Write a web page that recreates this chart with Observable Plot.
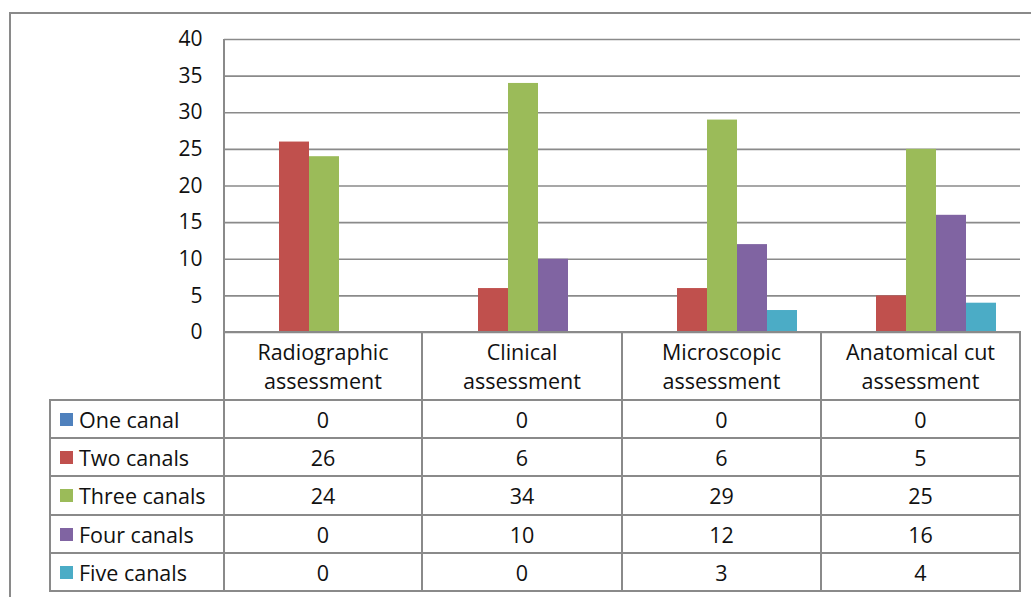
<!DOCTYPE html>
<html>
<head>
<meta charset="utf-8">
<script src="https://cdn.jsdelivr.net/npm/d3@7"></script>
<script src="https://cdn.jsdelivr.net/npm/@observablehq/plot@0.6"></script>
<style>
  html, body { margin: 0; padding: 0; background: #fff; overflow: hidden; }
  #wrap { position: relative; width: 1031px; height: 597px; overflow: hidden; font-family: "Open Sans", sans-serif; color: #111; }
  .ln { position: absolute; background: #8a8a8a; }
  .cell { position: absolute; display: flex; align-items: center; justify-content: center; text-align: center; font-size: 21.5px; line-height: 29px; }
  .lab { position: absolute; display: flex; align-items: center; font-size: 21.5px; white-space: nowrap; }
  .sw { display: inline-block; width: 13px; height: 13px; margin-right: 6px; }
  #plot { position: absolute; left: 0; top: 0; }
</style>
</head>
<body>
<div id="wrap"><div id="plot"></div></div>
<script>
// ---- data ----
const categories = ["Radiographic assessment", "Clinical assessment", "Microscopic assessment", "Anatomical cut assessment"];
const categoryLines = [["Radiographic", "assessment"], ["Clinical", "assessment"], ["Microscopic", "assessment"], ["Anatomical cut", "assessment"]];
const series = ["One canal", "Two canals", "Three canals", "Four canals", "Five canals"];
const oneCanal = [0, 0, 0, 0];
const twoCanals = [26, 6, 6, 5];
const threeCanals = [24, 34, 29, 25];
const fourCanals = [0, 10, 12, 16];
const fiveCanals = [0, 0, 3, 4];
const yTicks = [0, 5, 10, 15, 20, 25, 30, 35, 40];
const colors = ["#4F81BD", "#C0504D", "#9BBB59", "#8064A2", "#4BACC6"];

const seriesValues = [oneCanal, twoCanals, threeCanals, fourCanals, fiveCanals];
const rows = categories.flatMap((c, i) => series.map((s, j) => ({category: c, series: s, value: seriesValues[j][i]})));

// ---- layout ----
const plotLeft = 224, plotRight = 1020, plotTop = 39, zeroY = 332;
const W = 1031, H = 360;

const chart = Plot.plot({
  width: W, height: H,
  marginLeft: plotLeft, marginRight: W - plotRight, marginTop: plotTop, marginBottom: H - zeroY,
  style: {fontFamily: "'Open Sans', sans-serif", fontSize: "21px", color: "#111", background: "transparent", overflow: "visible"},
  fx: {domain: categories, padding: 0, axis: null},
  x: {domain: series, paddingInner: 0, paddingOuter: 0.71, axis: null},
  y: {domain: [0, 40], ticks: yTicks, tickSize: 0, tickPadding: 22, label: null, tickFormat: d => String(d)},
  color: {domain: series, range: colors},
  marks: [
    Plot.gridY(yTicks, {stroke: "#8a8a8a", strokeOpacity: 1, strokeWidth: 1.6}),
    Plot.barY(rows, {fx: "category", x: "series", y: "value", fill: "series"})
  ]
});
document.getElementById("plot").appendChild(chart);

// ---- frame and data table ----
const wrap = document.getElementById("wrap");
function line(x, y, w, h) {
  const d = document.createElement("div");
  d.className = "ln";
  Object.assign(d.style, {left: x + "px", top: y + "px", width: w + "px", height: h + "px"});
  wrap.appendChild(d);
}
// outer chart frame
line(9, 12, W, 2);
line(9, 12, 2, 600);

const colX = [50, 224, 422, 622, 821, 1020];
const rowY = [332, 400, 438, 476, 515, 553, 591];
const lw = 2;
// axis line on left of plot area
line(plotLeft - 1, plotTop, lw, zeroY - plotTop);
// horizontal lines
line(colX[1] - 1, rowY[0] - 1, colX[5] - colX[1] + lw, lw);
for (let r = 1; r < rowY.length; r++) line(colX[0] - 1, rowY[r] - 1, colX[5] - colX[0] + lw, lw);
// vertical lines
line(colX[0] - 1, rowY[1] - 1, lw, rowY[6] - rowY[1] + lw);
for (let c = 1; c < colX.length; c++) line(colX[c] - 1, rowY[0] - 1, lw, rowY[6] - rowY[0] + lw);

// header cells
categoryLines.forEach((lines, i) => {
  const d = document.createElement("div");
  d.className = "cell";
  Object.assign(d.style, {left: colX[i + 1] + "px", top: rowY[0] + "px", width: (colX[i + 2] - colX[i + 1]) + "px", height: (rowY[1] - rowY[0]) + "px"});
  d.innerHTML = lines.join("<br>");
  wrap.appendChild(d);
});
// rows
series.forEach((s, j) => {
  const y0 = rowY[j + 1], y1 = rowY[j + 2];
  const lab = document.createElement("div");
  lab.className = "lab";
  Object.assign(lab.style, {left: "60px", top: y0 + "px", height: (y1 - y0) + "px"});
  lab.innerHTML = `<span class="sw" style="background:${colors[j]}"></span>${s}`;
  wrap.appendChild(lab);
  seriesValues[j].forEach((v, i) => {
    const d = document.createElement("div");
    d.className = "cell";
    Object.assign(d.style, {left: colX[i + 1] + "px", top: y0 + "px", width: (colX[i + 2] - colX[i + 1]) + "px", height: (y1 - y0) + "px"});
    d.textContent = v;
    wrap.appendChild(d);
  });
});
</script>
</body>
</html>
